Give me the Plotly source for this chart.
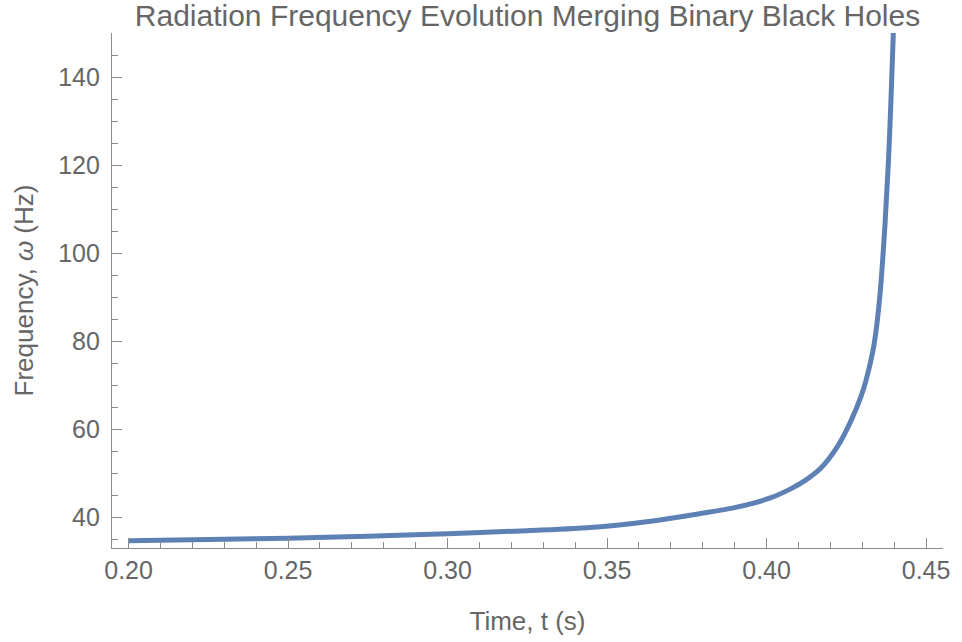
import plotly.graph_objects as go

# Time (s) and radiation frequency (Hz)
time_s = [0.200, 0.225, 0.250, 0.275, 0.300, 0.325, 0.347, 0.363, 0.3785,
          0.391, 0.4014, 0.4077, 0.4119, 0.4171, 0.4223, 0.4264, 0.4296,
          0.4311, 0.4327, 0.4337, 0.43454, 0.4356, 0.43716, 0.43829, 0.43913, 0.43973]
freq_hz = [34.60, 34.88, 35.18, 35.65, 36.20, 36.90, 37.75, 39.0, 40.7,
           42.3, 44.4, 46.45, 48.2, 51.2, 56.1, 61.8, 67.4,
           70.9, 75.6, 79.3, 83.6, 91.0, 107.0, 122.4, 137.6, 150.0]

x_ticks = [0.20, 0.25, 0.30, 0.35, 0.40, 0.45]
x_labels = ["0.20", "0.25", "0.30", "0.35", "0.40", "0.45"]
y_ticks = [40, 60, 80, 100, 120, 140]

title_text = "Radiation Frequency Evolution Merging Binary Black Holes"
x_title = "Time, t (s)"
y_title = "Frequency, <i>ω</i> (Hz)"

FONT = "Liberation Sans, Arial, sans-serif"
TEXT = "#666666"
AXIS = "#8c8c8c"

fig = go.Figure()
fig.add_trace(go.Scatter(
    x=time_s, y=freq_hz, mode="lines",
    line=dict(color="#5e81b5", width=5, shape="spline", smoothing=1.0),
    hoverinfo="skip", showlegend=False,
))

fig.update_layout(
    width=962, height=642,
    margin=dict(l=112, r=16, t=33, b=93),
    paper_bgcolor="white", plot_bgcolor="white",
    font=dict(family=FONT, color=TEXT, size=25),
    title=dict(text=title_text, x=0.5, xref="paper", xanchor="center",
               y=1 - 15 / 642, yref="container", yanchor="middle",
               font=dict(size=30, color=TEXT, family=FONT)),
    xaxis=dict(
        range=[0.1948, 0.4553], tickvals=x_ticks, ticktext=x_labels,
        showgrid=False, zeroline=False, showline=True, linecolor=AXIS, linewidth=1.2,
        ticks="inside", ticklen=10, tickwidth=1.2, tickcolor=AXIS,
        tickfont=dict(size=25, color=TEXT),
        minor=dict(dtick=0.01, tick0=0.2, ticks="inside", ticklen=6, tickwidth=1, tickcolor=AXIS),
        title=dict(text=x_title, font=dict(size=26, color=TEXT), standoff=28),
        mirror=False,
    ),
    yaxis=dict(
        range=[32.96, 150], tickvals=y_ticks,
        showgrid=False, zeroline=False, showline=True, linecolor=AXIS, linewidth=1.2,
        ticks="inside", ticklen=10, tickwidth=1.2, tickcolor=AXIS,
        tickfont=dict(size=25, color=TEXT), ticklabelstandoff=6,
        minor=dict(dtick=5, tick0=0, ticks="inside", ticklen=6, tickwidth=1, tickcolor=AXIS),
        title=dict(text=y_title, font=dict(size=26, color=TEXT), standoff=17),
        mirror=False,
    ),
)

fig.write_html("out.html")
